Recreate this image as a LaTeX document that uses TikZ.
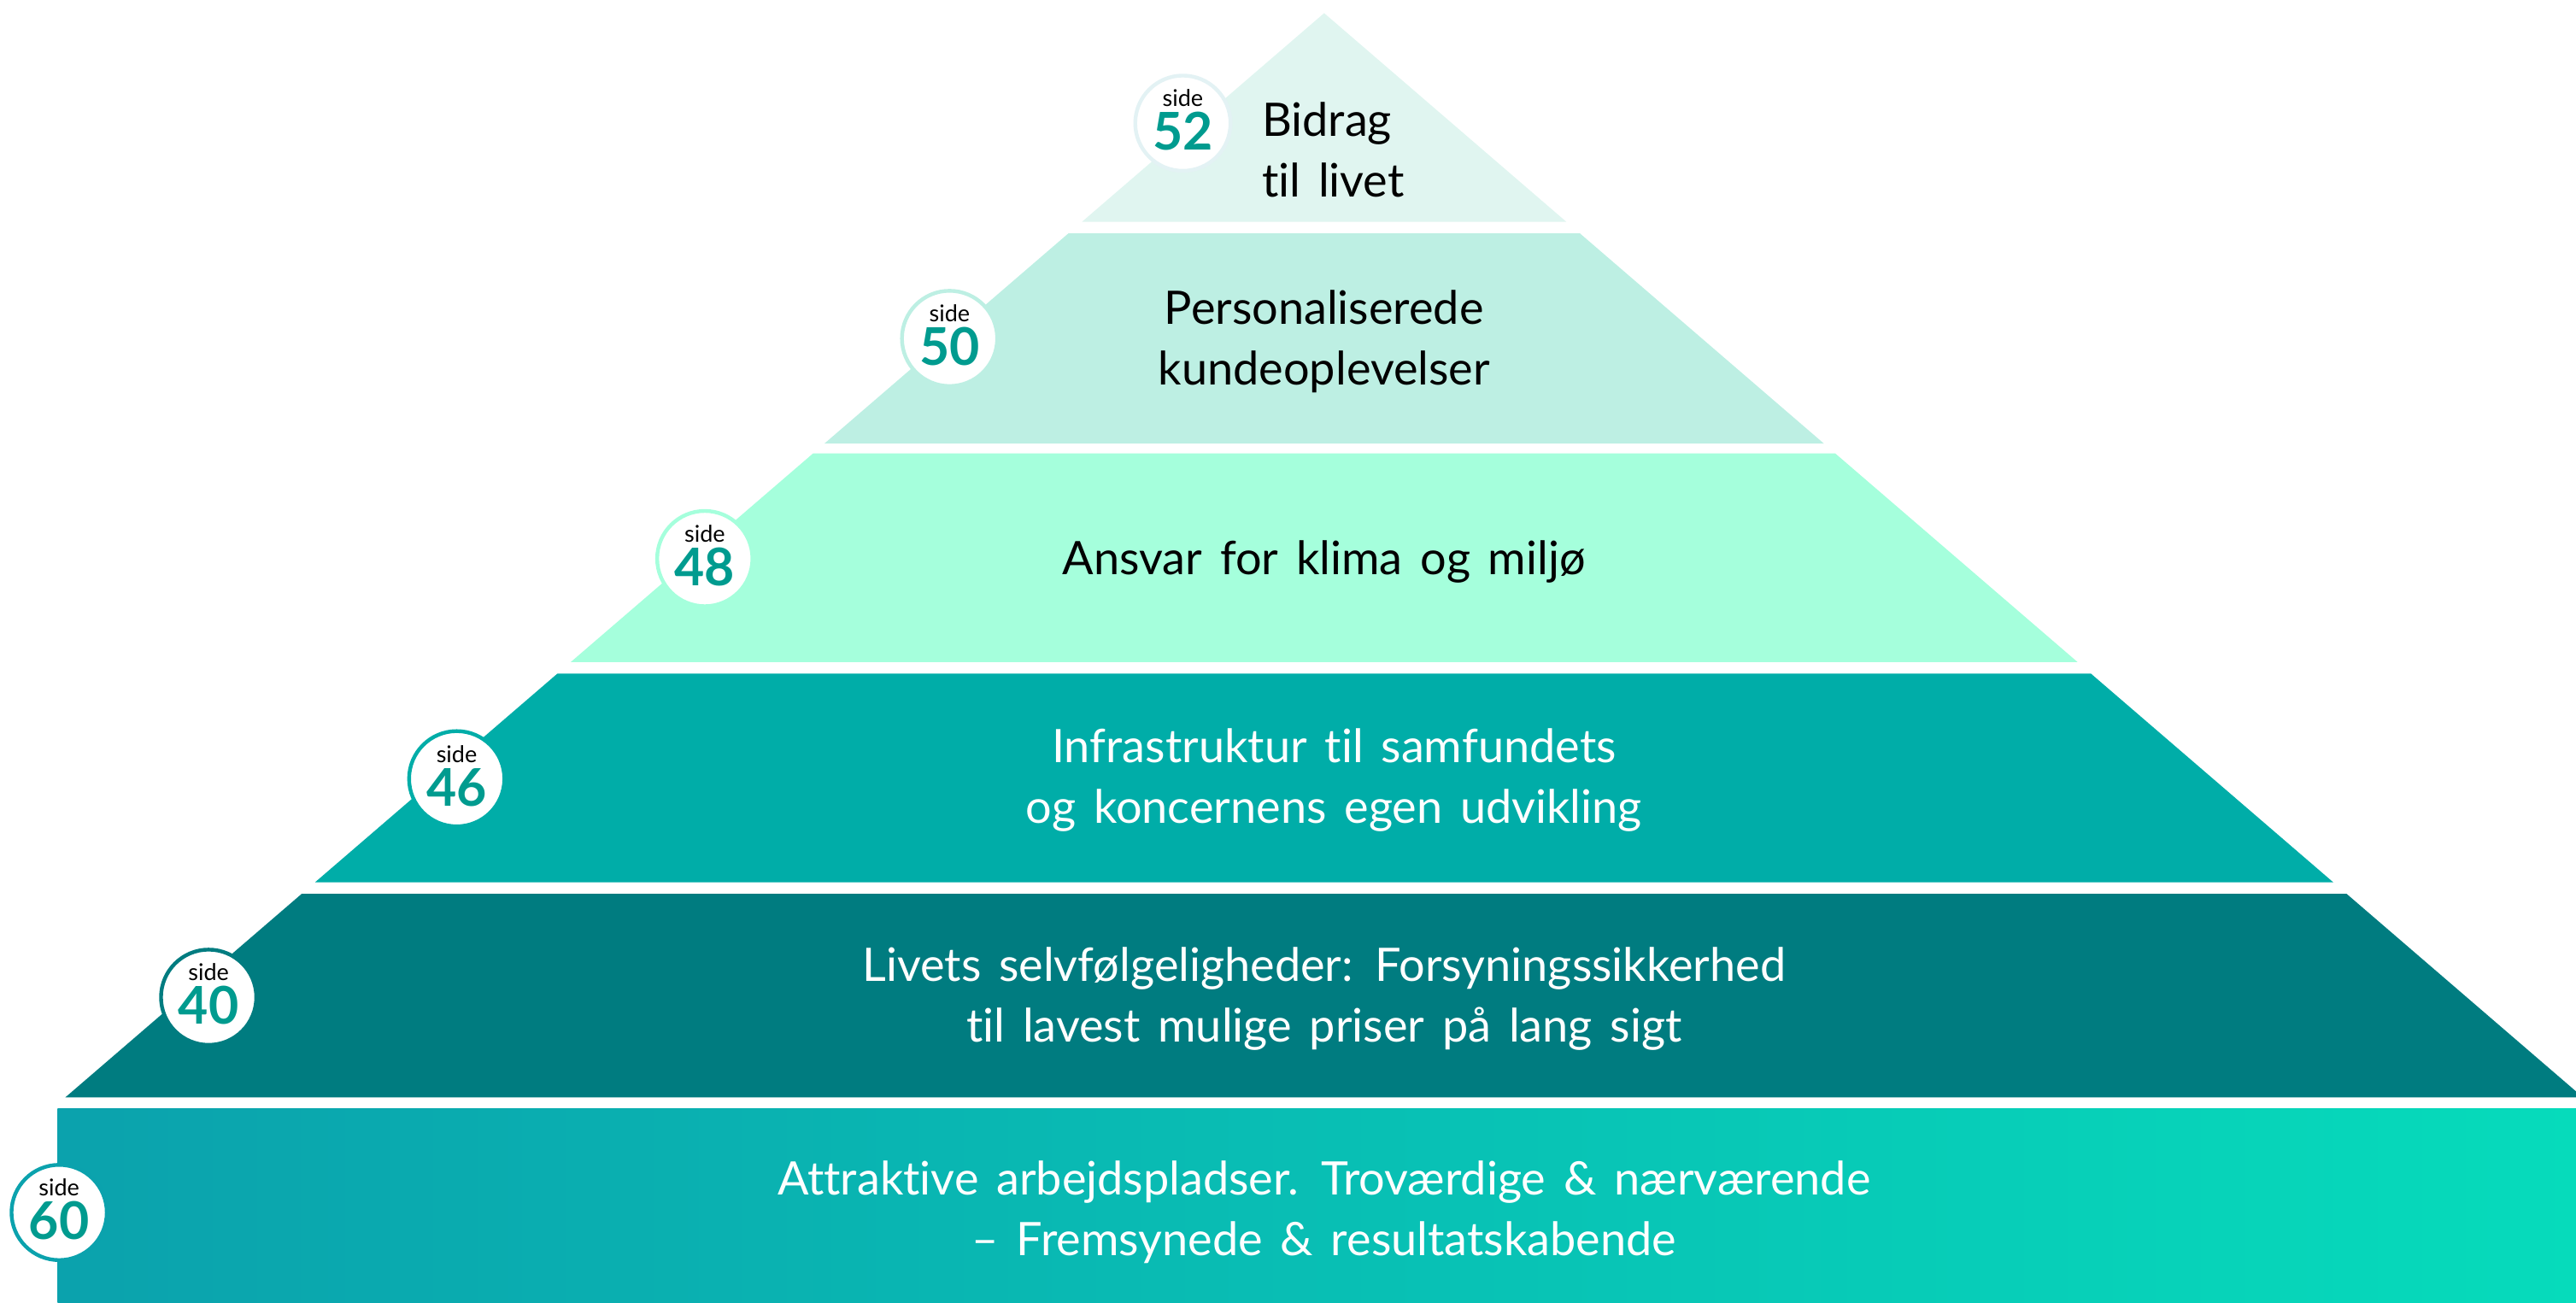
\documentclass[tikz,border=0pt]{standalone}
\usepackage{fontspec}
\setmainfont{Lato}[Ligatures=NoCommon,WordSpace=1.5]
\definecolor{tierA}{HTML}{E0F5F0}
\definecolor{tierB}{HTML}{BDEFE3}
\definecolor{tierC}{HTML}{A5FFDC}
\definecolor{tierD}{HTML}{00ADA8}
\definecolor{tierE}{HTML}{007C80}
\definecolor{baseL}{HTML}{0BA2AD}
\definecolor{baseR}{HTML}{06DBBB}
\definecolor{ringA}{HTML}{E3F2F4}
\definecolor{numteal}{HTML}{009B8F}
\tikzset{
  badge/.style={circle,fill=white,draw=#1,line width=1.3pt,minimum size=1.16cm,inner sep=0pt},
  sidelbl/.style={font=\fontsize{8}{8}\selectfont,inner sep=0pt},
  numlbl/.style={font=\fontsize{18}{18}\selectfont\bfseries,text=numteal,inner sep=0pt},
  tierlbl/.style={font=\fontsize{16}{21}\selectfont,align=center},
}
\begin{document}
\begin{tikzpicture}[x=0.02cm,y=-0.02cm]
\useasboundingbox (0,0) rectangle (1568,793);
\clip (0,0) rectangle (1568,793);
% pyramid tiers, top to bottom
\path[fill=tierA] (806,8)--(953.4,135)--(658.6,135)--cycle;
\path[fill=tierB] (650.4,142)--(961.6,142)--(1110.2,270)--(501.8,270)--cycle;
\path[fill=tierC] (494.9,276)--(1117.1,276)--(1264.6,403)--(347.4,403)--cycle;
\path[fill=tierD] (339.3,410)--(1272.7,410)--(1420.2,537)--(191.8,537)--cycle;
\path[fill=tierE] (183.7,544)--(1428.3,544)--(1572.3,668)--(39.7,668)--cycle;
\path[left color=baseL,right color=baseR] (35,675) rectangle (1568,800);

% tier texts
\node[tierlbl,align=left,anchor=west] (t52) at (762,91) {Bidrag\\til livet};
\node[tierlbl] (t50) at (806,208) {Personaliserede\\kundeoplevelser};
\node[tierlbl] (t48) at (806,342) {Ansvar for klima og miljø};
\node[tierlbl,text=white] (t46) at (812,475) {Infrastruktur til samfundets\\og koncernens egen udvikling};
\node[tierlbl,text=white] (t40) at (806,608) {Livets selvfølgeligheder: Forsyningssikkerhed\\til lavest mulige priser på lang sigt};
\node[tierlbl,text=white] (t60) at (806,738) {Attraktive arbejdspladser. Troværdige \& nærværende\\– Fremsynede \& resultatskabende};

% page badges
\foreach \pg/\cx/\cy/\ring in {52/720/75/ringA, 50/578/206/tierB, 48/429/340/tierC,
                               46/278/474/tierD, 40/127/607/tierE, 60/36/738/baseL}{
  \node[badge=\ring] (b\pg) at (\cx,\cy) {};
  \node[sidelbl,anchor=base] (s\pg) at ([yshift=0.2cm]b\pg.center) {side};
  \node[numlbl,anchor=base] (n\pg) at ([yshift=-0.33cm]b\pg.center) {\pg};
}
\end{tikzpicture}
\end{document}
